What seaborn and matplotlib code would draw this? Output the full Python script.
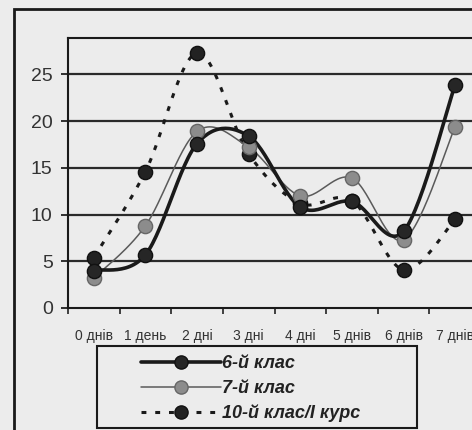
import numpy as np
import pandas as pd
import matplotlib
matplotlib.use('Agg')
import matplotlib.pyplot as plt
import seaborn as sns
from matplotlib.lines import Line2D
from matplotlib.patches import Rectangle

# дані
days = ['0 днів', '1 день', '2 дні', '3 дні', '4 дні', '5 днів', '6 днів', '7 днів']
grade6 = [4.0, 5.7, 17.6, 18.4, 10.8, 11.4, 8.2, 23.9]
grade7 = [3.2, 8.8, 18.9, 17.2, 12.0, 13.9, 7.3, 19.4]
grade10 = [5.4, 14.6, 27.3, 16.5, 11.2, 11.5, 4.1, 9.5]
labels = ['6-й клас', '7-й клас', '10-й клас/І курс']

sns.set_theme(style='white')
plt.rcParams['font.family'] = ['Liberation Sans', 'DejaVu Sans']

bg = '#ececec'


def smooth(x, y, n=30):
    # згладжування як у Excel (Catmull-Rom / Bezier)
    pts = np.column_stack([x, y]).astype(float)
    pts = np.vstack([pts[0], pts, pts[-1]])
    out = []
    t = np.linspace(0, 1, n)[:, None]
    for i in range(1, len(pts) - 2):
        p0, p1, p2, p3 = pts[i - 1], pts[i], pts[i + 1], pts[i + 2]
        c1 = p1 + (p2 - p0) / 6
        c2 = p2 - (p3 - p1) / 6
        seg = ((1 - t) ** 3) * p1 + 3 * ((1 - t) ** 2) * t * c1 + 3 * (1 - t) * t ** 2 * c2 + t ** 3 * p2
        out.append(seg if i == 1 else seg[1:])
    out = np.vstack(out)
    return out[:, 0], out[:, 1]


df = pd.DataFrame({'day': np.arange(len(days)), '6': grade6, '7': grade7, '10': grade10})

fig = plt.figure(figsize=(4.72, 4.30), dpi=100, facecolor=bg)
ax = fig.add_axes([68 / 472, 1 - 308 / 430, 413 / 472, 270 / 430], facecolor=bg)

styles = {
    '6': dict(color='#1a1a1a', lw=2.6, ls='-', mfc='#262626', mec='#111111'),
    '7': dict(color='#5a5a5a', lw=1.1, ls='-', mfc='#8c8c8c', mec='#666666'),
    '10': dict(color='#1a1a1a', lw=2.2, ls=(0, (1.6, 2.9)), mfc='#222222', mec='#111111'),
}

for col in ['10', '7', '6']:
    st = styles[col]
    sx, sy = smooth(df['day'], df[col])
    sns.lineplot(x=sx, y=sy, sort=False, estimator=None, ax=ax,
                 color=st['color'], linewidth=st['lw'], linestyle=st['ls'])
    sns.scatterplot(x=df['day'], y=df[col], ax=ax, s=105, color=st['mfc'],
                    edgecolor=st['mec'], linewidth=1, zorder=5)

ax.set_xlim(-0.5, 7.5)
ax.set_ylim(0, 28.9)
ax.set_yticks([0, 5, 10, 15, 20, 25])
ax.set_xticks(range(len(days)))
ax.set_xticklabels(days)
ax.set_xticks(np.arange(-0.5, 8, 1), minor=True)
ax.tick_params(axis='x', which='major', length=0, pad=15, labelsize=10, labelcolor='#333333')
ax.tick_params(axis='x', which='minor', length=4, width=1.2, color='#222222', direction='out', bottom=True)
ax.tick_params(axis='y', length=5, width=1.3, color='#222222', direction='out', left=True,
               pad=6, labelsize=14, labelcolor='#333333')
ax.grid(False)
for v in [5, 10, 15, 20, 25]:
    ax.axhline(v, color='#2a2a2a', lw=1.6, zorder=1)
for s in ax.spines.values():
    s.set_color('#1a1a1a')
    s.set_linewidth(1.5)
ax.set_xlabel('')
ax.set_ylabel('')

# зовнішня рамка
fig.patches.append(Rectangle((14 / 472, -0.2), 1.5, 1.2 - 9 / 430, transform=fig.transFigure,
                             fill=False, edgecolor='#1a1a1a', lw=2))
# рамка легенди
fig.patches.append(Rectangle((97 / 472, 1 - 428 / 430), 320 / 472, 82 / 430, transform=fig.transFigure,
                             fill=False, edgecolor='#1a1a1a', lw=1.5))

handles = [Line2D([], [], color=styles[c]['color'], lw=styles[c]['lw'], ls=styles[c]['ls'],
                  marker='o', markersize=9.5, markerfacecolor=styles[c]['mfc'],
                  markeredgecolor=styles[c]['mec']) for c in ['6', '7', '10']]
fig.legend(handles, labels, loc='upper left', bbox_to_anchor=(125 / 472, 1 - 339 / 430),
           frameon=False, handlelength=4.4, handletextpad=0.05, labelspacing=0.42,
           borderpad=0.4, prop=dict(size=13, weight='bold', style='italic'),
           labelcolor='#222222')

fig.savefig('out.png', dpi=100, facecolor=bg)
